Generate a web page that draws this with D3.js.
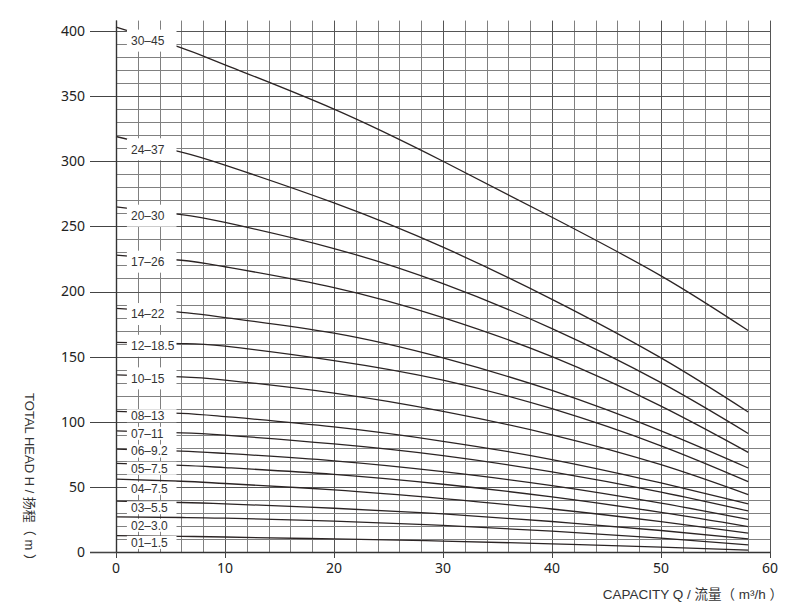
<!DOCTYPE html>
<html>
<head>
<meta charset="utf-8">
<script src="https://cdn.jsdelivr.net/npm/d3@7"></script>
<style>
  html, body { margin: 0; padding: 0; background: #fff; }
  svg { display: block; }
</style>
</head>
<body>
<svg id="chart" width="793" height="611"></svg>
<script>
// ---------- data ----------
const capacity = [0, 6, 10, 20, 30, 40, 50, 58];           // Q (m3/h)
const models   = ["30–45","24–37","20–30","17–26","14–22","12–18.5","10–15",
                  "08–13","07–11","06–9.2","05–7.5","04–7.5","03–5.5","02–3.0","01–1.5"];
const h30_45   = [403, 387, 374, 340, 300, 257, 212, 170];
const h24_37   = [319, 307, 297, 268, 234, 194, 149, 107.5];
const h20_30   = [265, 259, 253, 233, 206, 171.5, 130, 91];
const h17_26   = [228, 224, 219, 203, 180, 150, 112, 76.5];
const h14_22   = [187, 184, 180, 168, 149, 124, 93, 64.5];
const h12_18_5 = [161, 160, 158, 147, 132, 110, 81.5, 54];
const h10_15   = [136, 134.5, 132, 122, 108, 90, 67, 44];
const h08_13   = [108, 106.5, 104, 96, 85, 71, 53, 37];
const h07_11   = [93, 91.5, 89.7, 83, 74, 61.5, 46, 31.5];
const h06_9_2  = [79, 77.5, 75.7, 70, 61.7, 51, 37.5, 25];
const h05_7_5  = [68, 66.5, 64.8, 59.6, 52, 42.3, 30.4, 19.5];
const h04_7_5  = [56, 54.3, 52.6, 47.7, 41, 33, 23.3, 14.5];
const h03_5_5  = [39, 38, 37, 33.6, 29.2, 23.4, 16.5, 10];
const h02_3_0  = [27, 26.5, 26, 23.7, 20.4, 16, 10.6, 5.5];
const h01_1_5  = [12.5, 12, 11.5, 10, 8.4, 6.3, 3.8, 1.5];
const seriesValues = [h30_45, h24_37, h20_30, h17_26, h14_22, h12_18_5, h10_15,
                      h08_13, h07_11, h06_9_2, h05_7_5, h04_7_5, h03_5_5, h02_3_0, h01_1_5];
const labelHead = [392.6, 309.2, 258.2, 222.9, 182.7, 158.3, 133.3,
                   104.6, 91.1, 77.5, 64.3, 48.9, 34.0, 20.5, 7.4];
const xTicks = [0, 10, 20, 30, 40, 50, 60];
const yTicks = [0, 50, 100, 150, 200, 250, 300, 350, 400];

// ---------- layout ----------
const svg = d3.select("#chart");
const x = d3.scaleLinear().domain([0, 60]).range([116, 770]);
const y = d3.scaleLinear().domain([0, 400]).range([552, 31]);
const crisp = v => Math.round(v) + 0.5;

// grid
const grid = svg.append("g");
d3.range(0, 61, 2).forEach(q => {
  grid.append("line")
    .attr("x1", crisp(x(q))).attr("x2", crisp(x(q)))
    .attr("y1", y(408)).attr("y2", y(0))
    .attr("stroke", q % 10 === 0 ? "#555" : "#808080").attr("stroke-width", 1);
});
d3.range(10, 401, 10).forEach(h => {
  grid.append("line")
    .attr("x1", x(0)).attr("x2", x(60))
    .attr("y1", crisp(y(h))).attr("y2", crisp(y(h)))
    .attr("stroke", h % 50 === 0 ? "#555" : "#808080").attr("stroke-width", 1);
});

// curves
const line = d3.line().x((d, i) => x(capacity[i])).y(d => y(d)).curve(d3.curveNatural);
svg.append("g").selectAll("path").data(seriesValues).join("path")
  .attr("d", d => line(d))
  .attr("fill", "none").attr("stroke", "#2b2424").attr("stroke-width", 1.3);

// label boxes + labels
const lab = svg.append("g");
models.forEach((m, i) => {
  const cy = y(labelHead[i]);
  const hgt = i < 7 ? 22 : 13;
  lab.append("rect")
    .attr("x", x(1)).attr("width", x(5.55) - x(1))
    .attr("y", cy - hgt / 2).attr("height", hgt)
    .attr("fill", "#fff");
});
models.forEach((m, i) => {
  lab.append("text")
    .attr("x", 131).attr("y", y(labelHead[i]))
    .attr("dy", "0.36em")
    .attr("font-family", "'Liberation Sans', Arial, sans-serif")
    .attr("font-size", 12).attr("fill", "#333")
    .text(m);
});

// axes
const ax = svg.append("g");
ax.append("line").attr("x1", crisp(x(0))).attr("x2", crisp(x(0)))
  .attr("y1", y(408)).attr("y2", y(0)).attr("stroke", "#333").attr("stroke-width", 1.4);
ax.append("line").attr("x1", 90).attr("x2", x(60) + 1)
  .attr("y1", crisp(y(0))).attr("y2", crisp(y(0))).attr("stroke", "#333").attr("stroke-width", 1.4);

yTicks.forEach(t => {
  ax.append("line").attr("x1", 90).attr("x2", x(0))
    .attr("y1", crisp(y(t))).attr("y2", crisp(y(t)))
    .attr("stroke", "#444").attr("stroke-width", 1);
  ax.append("text").attr("x", 85).attr("y", y(t)).attr("dy", "0.35em")
    .attr("text-anchor", "end")
    .attr("font-family", "'Noto Sans', 'Open Sans', sans-serif")
    .attr("font-size", 14).attr("fill", "#222").text(t);
});
xTicks.forEach(t => {
  ax.append("line").attr("x1", crisp(x(t))).attr("x2", crisp(x(t)))
    .attr("y1", y(0)).attr("y2", y(0) + 6)
    .attr("stroke", "#444").attr("stroke-width", 1);
  ax.append("text").attr("x", x(t)).attr("y", 573)
    .attr("text-anchor", "middle")
    .attr("font-family", "'Noto Sans', 'Open Sans', sans-serif")
    .attr("font-size", 14).attr("fill", "#222").text(t);
});

// axis titles
svg.append("text")
  .attr("transform", "translate(25,480) rotate(90)")
  .attr("text-anchor", "middle")
  .attr("font-family", "'Liberation Sans', 'Noto Sans CJK SC', sans-serif")
  .attr("font-size", 13).attr("fill", "#333")
  .text("TOTAL HEAD H / 扬程（ m ）");
svg.append("text")
  .attr("x", 783).attr("y", 599)
  .attr("text-anchor", "end")
  .attr("font-family", "'Liberation Sans', 'Noto Sans CJK SC', sans-serif")
  .attr("font-size", 13.5).attr("fill", "#333")
  .text("CAPACITY Q / 流量（ m³/h ）");
</script>
</body>
</html>
